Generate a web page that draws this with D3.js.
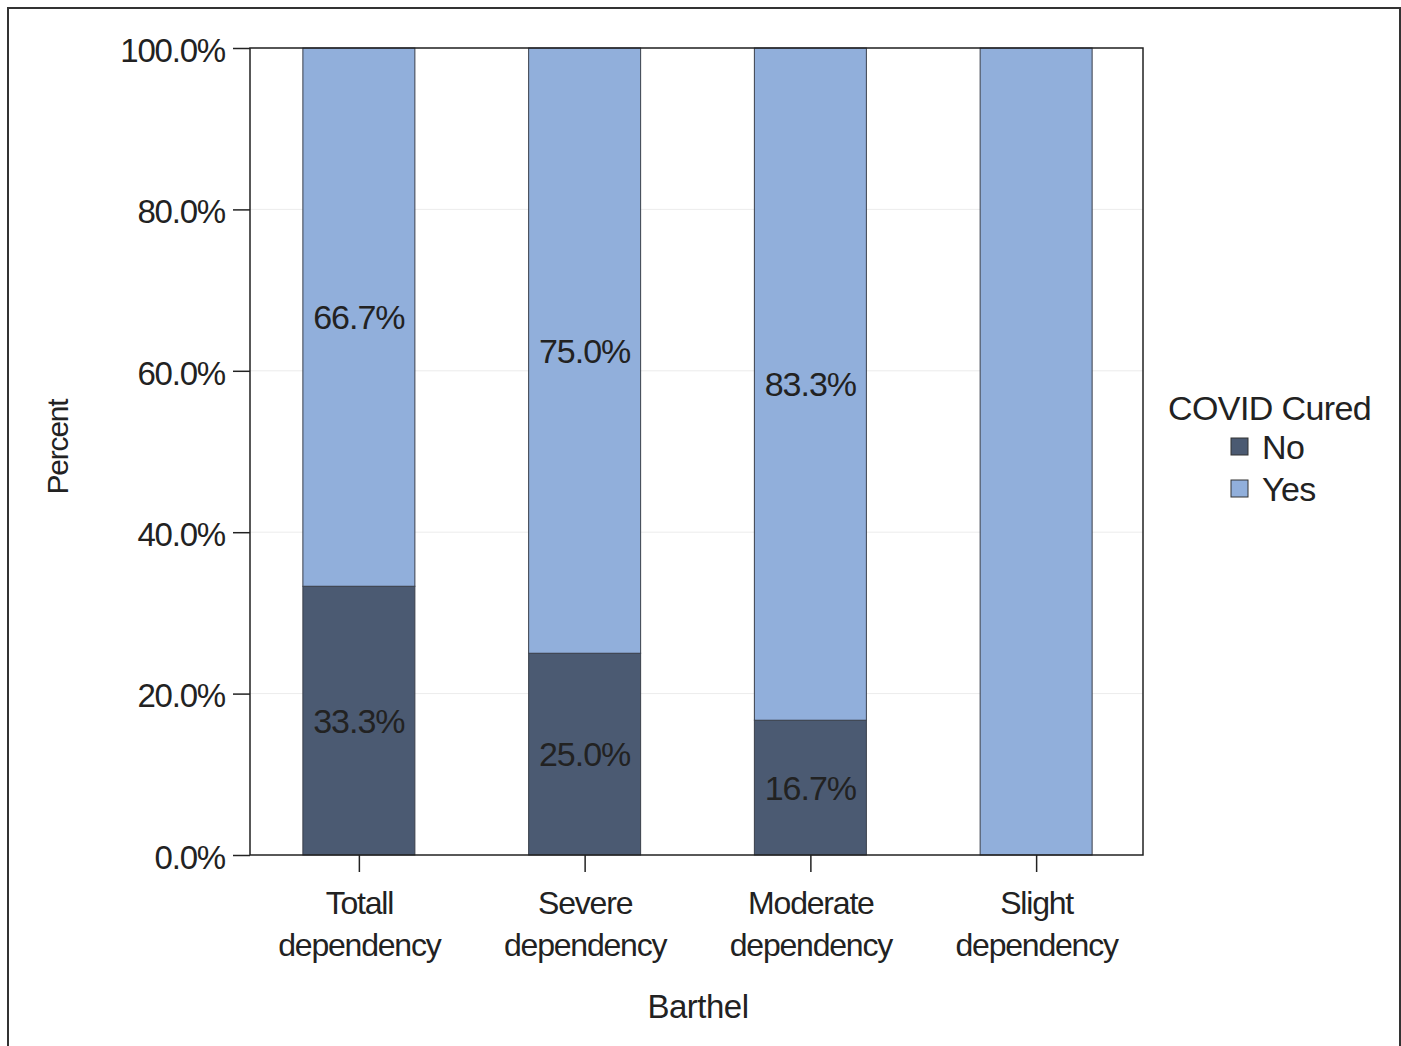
<!DOCTYPE html>
<html><head><meta charset="utf-8">
<script src="https://cdn.jsdelivr.net/npm/d3@7"></script>
<style>body{margin:0;background:#fff}svg{display:block;font-family:"Liberation Sans",Arial,sans-serif}</style>
</head><body><svg id="c" width="1401" height="1046"></svg>
<script>
const categories = [["Totall","dependency"],["Severe","dependency"],["Moderate","dependency"],["Slight","dependency"]];
const catKeys = ["Totall dependency","Severe dependency","Moderate dependency","Slight dependency"];
const noValues = [33.3, 25.0, 16.7, 0];
const yesValues = [66.7, 75.0, 83.3, 100];
const showLabels = [true, true, true, false];
const yTicks = [0, 20, 40, 60, 80, 100];
const seriesNames = ["No", "Yes"];
const colors = {No: "#4b5a72", Yes: "#91afdb"};

const svg = d3.select("#c");
svg.append("rect").attr("x",8).attr("y",8).attr("width",1392).attr("height",1050)
  .attr("fill","none").attr("stroke","#333").attr("stroke-width",2);

const L=250,R=1143,T=48,B=855;
const x = d3.scalePoint().domain(catKeys).range([246,1149]).padding(0.5);
const bw = 112;
const y = d3.scaleLinear().domain([0,100]).range([B,T]);

// grid
svg.append("g").selectAll("line").data(yTicks.filter(d=>d>0)).join("line")
  .attr("x1",L).attr("x2",R).attr("y1",d=>y(d)).attr("y2",d=>y(d))
  .attr("stroke","#ececec").attr("stroke-width",1);

const data = catKeys.map((k,i)=>({k, No:noValues[i], Yes:yesValues[i], show:showLabels[i]}));
const stack = d3.stack().keys(seriesNames)(data);
const g = svg.append("g");
stack.forEach(s=>{
  g.selectAll(null).data(s.filter(d=>d[1]-d[0]>0)).join("rect")
   .attr("x",d=>x(d.data.k)-bw/2).attr("width",bw)
   .attr("y",d=>y(d[1])).attr("height",d=>y(d[0])-y(d[1]))
   .attr("fill",colors[s.key]).attr("stroke","#3a3f4a").attr("stroke-width",1);
  g.selectAll(null).data(s.filter(d=>d.data.show && d[1]-d[0]>0)).join("text")
   .attr("x",d=>x(d.data.k)).attr("y",d=>y((d[0]+d[1])/2))
   .attr("dy","0.35em").attr("text-anchor","middle")
   .attr("font-size",34).attr("letter-spacing","-1px").attr("fill","#222")
   .text(d=>(d[1]-d[0]).toFixed(1)+"%");
});

// frame
svg.append("rect").attr("x",L).attr("y",T).attr("width",R-L).attr("height",B-T)
  .attr("fill","none").attr("stroke","#222").attr("stroke-width",1.5);

// y axis
const ya = svg.append("g").attr("transform",`translate(${L},0)`)
  .call(d3.axisLeft(y).tickValues(yTicks).tickSize(17).tickPadding(8).tickFormat(d=>d.toFixed(1)+"%"));
ya.select(".domain").remove();
ya.selectAll("line").attr("stroke","#222").attr("stroke-width",1.5);
ya.selectAll("text").attr("font-size",33).attr("letter-spacing","-1.2px").attr("fill","#222")
  .attr("dy","0.4em").attr("font-family","Liberation Sans, Arial, sans-serif");

// x axis
const xa = svg.append("g").attr("transform",`translate(0,${B})`)
  .call(d3.axisBottom(x).tickSize(17).tickFormat(""));
xa.select(".domain").remove();
xa.selectAll("line").attr("stroke","#222").attr("stroke-width",1.5);
xa.selectAll(".tick").each(function(d,i){
  const t = d3.select(this).append("text").attr("fill","#222").attr("font-size",32)
    .attr("letter-spacing","-1.2px").attr("text-anchor","middle")
    .attr("font-family","Liberation Sans, Arial, sans-serif");
  categories[i].forEach((ln,j)=>t.append("tspan").attr("x",0).attr("y",59+j*42).text(ln));
});

// axis titles
svg.append("text").attr("transform","translate(68,447) rotate(-90)").attr("text-anchor","middle")
  .attr("font-size",30).attr("letter-spacing","-1.2px").attr("fill","#222").text("Percent");
svg.append("text").attr("x",698).attr("y",1018).attr("text-anchor","middle")
  .attr("font-size",33).attr("letter-spacing","-0.5px").attr("fill","#222").text("Barthel");

// legend
svg.append("text").attr("x",1168).attr("y",420).attr("font-size",34).attr("letter-spacing","-0.6px").attr("fill","#222").text("COVID Cured");
seriesNames.forEach((n,i)=>{
  const yy = 447 + i*42;
  svg.append("rect").attr("x",1231).attr("y",yy-9).attr("width",17).attr("height",17)
    .attr("fill",colors[n]).attr("stroke","#333").attr("stroke-width",1);
  svg.append("text").attr("x",1262).attr("y",yy).attr("dy","0.36em").attr("font-size",34)
    .attr("letter-spacing","-0.6px").attr("fill","#222").text(n);
});
</script></body></html>
